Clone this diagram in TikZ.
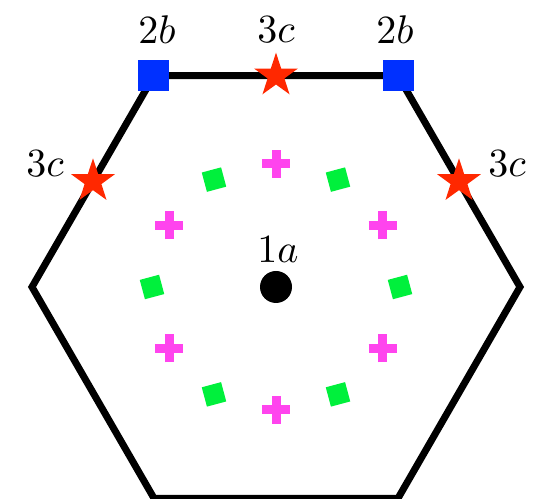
\documentclass[tikz,border=0pt]{standalone}
\usepackage{amsmath}
\usepackage{tikz}
\usetikzlibrary{calc}
\usetikzlibrary{shapes.geometric}

\definecolor{wyred}{RGB}{255,40,0}
\definecolor{wyblue}{RGB}{0,48,255}
\definecolor{wygreen}{RGB}{0,240,60}
\definecolor{wymagenta}{RGB}{255,68,238}

\begin{document}
\begin{tikzpicture}[
    x=0.25pt,
    y=0.25pt,
    every node/.style={font=\normalsize},
    site/.style={inner sep=0pt,outer sep=0pt},
    bsite/.style={site,rectangle,fill=wyblue,minimum size=7.75pt},
    csite/.style={site,star,star points=5,star point ratio=2.6,fill=wyred,minimum size=11.5pt},
    gsite/.style={site,rectangle,fill=wygreen,minimum size=5pt,rotate=15},
    plusmark/.style={wymagenta,line width=2.25pt}
]

\useasboundingbox (-276,-212) rectangle (258,287);

%------------------------------------------------------------
% Hexagon corners
%------------------------------------------------------------

\coordinate (O) at (0,0);
\coordinate (V0) at (0:244);
\coordinate (V1) at (60:244);
\coordinate (V2) at (120:244);
\coordinate (V3) at (180:244);
\coordinate (V4) at (240:244);
\coordinate (V5) at (300:244);

%------------------------------------------------------------
% Cell boundary
%------------------------------------------------------------

\draw[line width=1.75pt,line join=miter]
(V0)--(V1)--(V2)--(V3)--(V4)--(V5)--cycle;

%------------------------------------------------------------
% Inner orbits
%------------------------------------------------------------

% green squares
\node[gsite] (g1) at (0:124) {};
\node[gsite] (g2) at (60:124) {};
\node[gsite] (g3) at (120:124) {};
\node[gsite] (g4) at (180:124) {};
\node[gsite] (g5) at (240:124) {};
\node[gsite] (g6) at (300:124) {};

% magenta crosses
\foreach \a/\n in {30/1,90/2,150/3,210/4,270/5,330/6}{
  \coordinate (p\n) at (\a:123);
  \draw[plusmark] ([xshift=-3.5pt]p\n)--([xshift=3.5pt]p\n);
  \draw[plusmark] ([yshift=-3.5pt]p\n)--([yshift=3.5pt]p\n);
}

%------------------------------------------------------------
% Wyckoff positions
%------------------------------------------------------------

% 1a
\fill (O) circle (4pt);
\node (la) at (2,37) {$1a$};

% 2b
\node[bsite] (bL) at (V2) {};
\node[bsite] (bR) at (V1) {};
\node (lbL) at (-119,257) {$2b$};
\node (lbR) at (119,257) {$2b$};

% 3c
\node[csite] (cT) at ($(V1)!0.5!(V2)$) {};
\node[csite] (cL) at ($(V2)!0.5!(V3)$) {};
\node[csite] (cR) at ($(V0)!0.5!(V1)$) {};
\node (lcT) at (0,257) {$3c$};
\node (lcL) at (-231,123) {$3c$};
\node (lcR) at (231,123) {$3c$};

\end{tikzpicture}
\end{document}
